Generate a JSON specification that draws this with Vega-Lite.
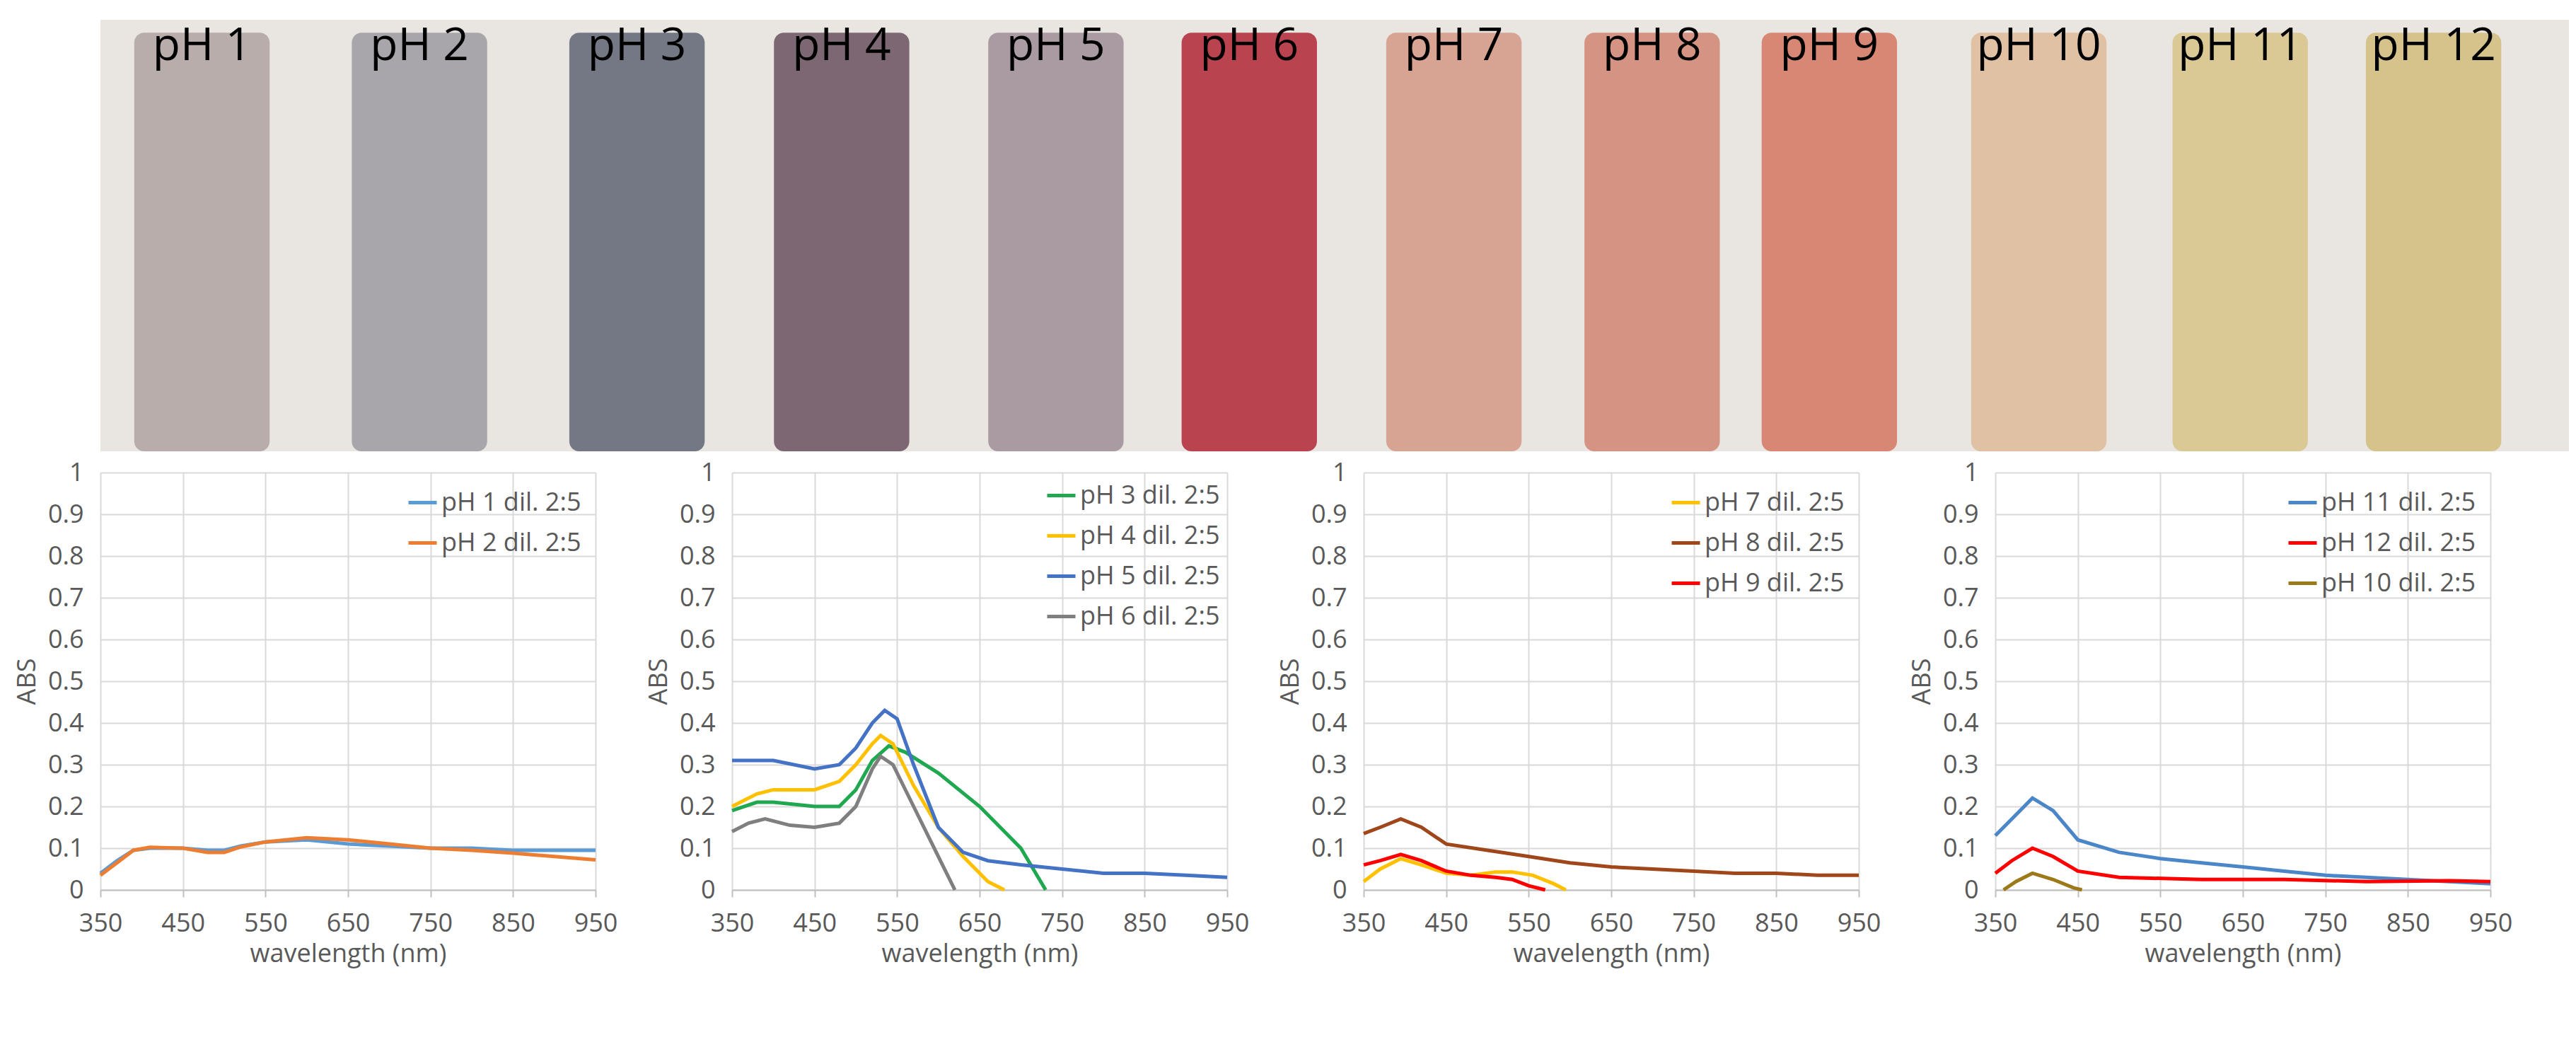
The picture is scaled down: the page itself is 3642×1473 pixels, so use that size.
{
  "$schema": "https://vega.github.io/schema/vega-lite/v6.json",
  "background": "white",
  "padding": {"left": 20, "top": 28, "right": 5, "bottom": 5},
  "bounds": "flush",
  "config": {
    "font": "Open Sans",
    "view": {"stroke": null},
    "axis": {
      "labelFont": "Open Sans", "titleFont": "Open Sans",
      "labelFontSize": 36, "titleFontSize": 36, "labelColor": "#595959", "titleColor": "#595959",
      "titleFontWeight": "normal", "gridColor": "#d9d9d9", "gridWidth": 2, "labelPadding": 14,
      "domainColor": "#bfbfbf", "domainWidth": 2, "tickColor": "#bfbfbf", "tickWidth": 2, "tickSize": 10
    },
    "axisX": {"labelFlush": false, "titlePadding": 8, "labelPadding": 20},
    "axisY": {"format": ".1~f", "titlePadding": 10, "labelPadding": 24},
    "legend": {"labelFontSize": 36, "labelColor": "#595959", "labelFont": "Open Sans", "labelLimit": 600, "symbolType": "stroke", "symbolStrokeWidth": 5, "symbolSize": 1600, "rowPadding": 16}
  },
  "datasets": {
    "tubes": [
      {"ph": "pH 1", "c": 75}, {"ph": "pH 2", "c": 210}, {"ph": "pH 3", "c": 345}, {"ph": "pH 4", "c": 472},
      {"ph": "pH 5", "c": 605}, {"ph": "pH 6", "c": 725}, {"ph": "pH 7", "c": 852}, {"ph": "pH 8", "c": 975},
      {"ph": "pH 9", "c": 1085}, {"ph": "pH 10", "c": 1215}, {"ph": "pH 11", "c": 1340}, {"ph": "pH 12", "c": 1460}
    ],
    "p1": [
      {"s": "pH 1 dil. 2:5", "w": 350, "a": 0.04}, {"s": "pH 1 dil. 2:5", "w": 370, "a": 0.07}, {"s": "pH 1 dil. 2:5", "w": 390, "a": 0.095},
      {"s": "pH 1 dil. 2:5", "w": 410, "a": 0.1}, {"s": "pH 1 dil. 2:5", "w": 450, "a": 0.1}, {"s": "pH 1 dil. 2:5", "w": 480, "a": 0.095},
      {"s": "pH 1 dil. 2:5", "w": 500, "a": 0.095}, {"s": "pH 1 dil. 2:5", "w": 520, "a": 0.105}, {"s": "pH 1 dil. 2:5", "w": 550, "a": 0.115},
      {"s": "pH 1 dil. 2:5", "w": 600, "a": 0.12}, {"s": "pH 1 dil. 2:5", "w": 650, "a": 0.11}, {"s": "pH 1 dil. 2:5", "w": 700, "a": 0.105},
      {"s": "pH 1 dil. 2:5", "w": 750, "a": 0.1}, {"s": "pH 1 dil. 2:5", "w": 800, "a": 0.1}, {"s": "pH 1 dil. 2:5", "w": 850, "a": 0.095},
      {"s": "pH 1 dil. 2:5", "w": 900, "a": 0.095}, {"s": "pH 1 dil. 2:5", "w": 950, "a": 0.095},
      {"s": "pH 2 dil. 2:5", "w": 350, "a": 0.035}, {"s": "pH 2 dil. 2:5", "w": 370, "a": 0.065}, {"s": "pH 2 dil. 2:5", "w": 390, "a": 0.095},
      {"s": "pH 2 dil. 2:5", "w": 410, "a": 0.102}, {"s": "pH 2 dil. 2:5", "w": 450, "a": 0.1}, {"s": "pH 2 dil. 2:5", "w": 480, "a": 0.09},
      {"s": "pH 2 dil. 2:5", "w": 500, "a": 0.09}, {"s": "pH 2 dil. 2:5", "w": 520, "a": 0.103}, {"s": "pH 2 dil. 2:5", "w": 550, "a": 0.115},
      {"s": "pH 2 dil. 2:5", "w": 600, "a": 0.125}, {"s": "pH 2 dil. 2:5", "w": 650, "a": 0.12}, {"s": "pH 2 dil. 2:5", "w": 700, "a": 0.11},
      {"s": "pH 2 dil. 2:5", "w": 750, "a": 0.1}, {"s": "pH 2 dil. 2:5", "w": 800, "a": 0.095}, {"s": "pH 2 dil. 2:5", "w": 850, "a": 0.088},
      {"s": "pH 2 dil. 2:5", "w": 900, "a": 0.08}, {"s": "pH 2 dil. 2:5", "w": 950, "a": 0.072}
    ],
    "p2": [
      {"s": "pH 3 dil. 2:5", "w": 350, "a": 0.19}, {"s": "pH 3 dil. 2:5", "w": 380, "a": 0.21}, {"s": "pH 3 dil. 2:5", "w": 400, "a": 0.21},
      {"s": "pH 3 dil. 2:5", "w": 450, "a": 0.2}, {"s": "pH 3 dil. 2:5", "w": 480, "a": 0.2}, {"s": "pH 3 dil. 2:5", "w": 500, "a": 0.24},
      {"s": "pH 3 dil. 2:5", "w": 520, "a": 0.31}, {"s": "pH 3 dil. 2:5", "w": 540, "a": 0.345}, {"s": "pH 3 dil. 2:5", "w": 560, "a": 0.33},
      {"s": "pH 3 dil. 2:5", "w": 600, "a": 0.28}, {"s": "pH 3 dil. 2:5", "w": 650, "a": 0.2}, {"s": "pH 3 dil. 2:5", "w": 700, "a": 0.1},
      {"s": "pH 3 dil. 2:5", "w": 730, "a": 0},
      {"s": "pH 4 dil. 2:5", "w": 350, "a": 0.2}, {"s": "pH 4 dil. 2:5", "w": 380, "a": 0.23}, {"s": "pH 4 dil. 2:5", "w": 400, "a": 0.24},
      {"s": "pH 4 dil. 2:5", "w": 450, "a": 0.24}, {"s": "pH 4 dil. 2:5", "w": 480, "a": 0.26}, {"s": "pH 4 dil. 2:5", "w": 500, "a": 0.3},
      {"s": "pH 4 dil. 2:5", "w": 520, "a": 0.35}, {"s": "pH 4 dil. 2:5", "w": 530, "a": 0.37}, {"s": "pH 4 dil. 2:5", "w": 545, "a": 0.35},
      {"s": "pH 4 dil. 2:5", "w": 570, "a": 0.25}, {"s": "pH 4 dil. 2:5", "w": 600, "a": 0.15}, {"s": "pH 4 dil. 2:5", "w": 630, "a": 0.08},
      {"s": "pH 4 dil. 2:5", "w": 660, "a": 0.02}, {"s": "pH 4 dil. 2:5", "w": 680, "a": 0},
      {"s": "pH 5 dil. 2:5", "w": 350, "a": 0.31}, {"s": "pH 5 dil. 2:5", "w": 380, "a": 0.31}, {"s": "pH 5 dil. 2:5", "w": 400, "a": 0.31},
      {"s": "pH 5 dil. 2:5", "w": 450, "a": 0.29}, {"s": "pH 5 dil. 2:5", "w": 480, "a": 0.3}, {"s": "pH 5 dil. 2:5", "w": 500, "a": 0.34},
      {"s": "pH 5 dil. 2:5", "w": 520, "a": 0.4}, {"s": "pH 5 dil. 2:5", "w": 535, "a": 0.43}, {"s": "pH 5 dil. 2:5", "w": 550, "a": 0.41},
      {"s": "pH 5 dil. 2:5", "w": 570, "a": 0.3}, {"s": "pH 5 dil. 2:5", "w": 600, "a": 0.15}, {"s": "pH 5 dil. 2:5", "w": 630, "a": 0.09},
      {"s": "pH 5 dil. 2:5", "w": 660, "a": 0.07}, {"s": "pH 5 dil. 2:5", "w": 700, "a": 0.06}, {"s": "pH 5 dil. 2:5", "w": 750, "a": 0.05},
      {"s": "pH 5 dil. 2:5", "w": 800, "a": 0.04}, {"s": "pH 5 dil. 2:5", "w": 850, "a": 0.04}, {"s": "pH 5 dil. 2:5", "w": 900, "a": 0.035},
      {"s": "pH 5 dil. 2:5", "w": 950, "a": 0.03},
      {"s": "pH 6 dil. 2:5", "w": 350, "a": 0.14}, {"s": "pH 6 dil. 2:5", "w": 370, "a": 0.16}, {"s": "pH 6 dil. 2:5", "w": 390, "a": 0.17},
      {"s": "pH 6 dil. 2:5", "w": 420, "a": 0.155}, {"s": "pH 6 dil. 2:5", "w": 450, "a": 0.15}, {"s": "pH 6 dil. 2:5", "w": 480, "a": 0.16},
      {"s": "pH 6 dil. 2:5", "w": 500, "a": 0.2}, {"s": "pH 6 dil. 2:5", "w": 520, "a": 0.29}, {"s": "pH 6 dil. 2:5", "w": 530, "a": 0.32},
      {"s": "pH 6 dil. 2:5", "w": 545, "a": 0.3}, {"s": "pH 6 dil. 2:5", "w": 570, "a": 0.2}, {"s": "pH 6 dil. 2:5", "w": 600, "a": 0.08},
      {"s": "pH 6 dil. 2:5", "w": 620, "a": 0}
    ],
    "p3": [
      {"s": "pH 7 dil. 2:5", "w": 350, "a": 0.02}, {"s": "pH 7 dil. 2:5", "w": 370, "a": 0.05}, {"s": "pH 7 dil. 2:5", "w": 395, "a": 0.075},
      {"s": "pH 7 dil. 2:5", "w": 420, "a": 0.06}, {"s": "pH 7 dil. 2:5", "w": 450, "a": 0.04}, {"s": "pH 7 dil. 2:5", "w": 480, "a": 0.035},
      {"s": "pH 7 dil. 2:5", "w": 510, "a": 0.043}, {"s": "pH 7 dil. 2:5", "w": 530, "a": 0.043}, {"s": "pH 7 dil. 2:5", "w": 555, "a": 0.035},
      {"s": "pH 7 dil. 2:5", "w": 580, "a": 0.015}, {"s": "pH 7 dil. 2:5", "w": 595, "a": 0},
      {"s": "pH 8 dil. 2:5", "w": 350, "a": 0.135}, {"s": "pH 8 dil. 2:5", "w": 370, "a": 0.15}, {"s": "pH 8 dil. 2:5", "w": 395, "a": 0.17},
      {"s": "pH 8 dil. 2:5", "w": 420, "a": 0.15}, {"s": "pH 8 dil. 2:5", "w": 450, "a": 0.11}, {"s": "pH 8 dil. 2:5", "w": 500, "a": 0.095},
      {"s": "pH 8 dil. 2:5", "w": 550, "a": 0.08}, {"s": "pH 8 dil. 2:5", "w": 600, "a": 0.065}, {"s": "pH 8 dil. 2:5", "w": 650, "a": 0.055},
      {"s": "pH 8 dil. 2:5", "w": 700, "a": 0.05}, {"s": "pH 8 dil. 2:5", "w": 750, "a": 0.045}, {"s": "pH 8 dil. 2:5", "w": 800, "a": 0.04},
      {"s": "pH 8 dil. 2:5", "w": 850, "a": 0.04}, {"s": "pH 8 dil. 2:5", "w": 900, "a": 0.035}, {"s": "pH 8 dil. 2:5", "w": 950, "a": 0.035},
      {"s": "pH 9 dil. 2:5", "w": 350, "a": 0.06}, {"s": "pH 9 dil. 2:5", "w": 370, "a": 0.07}, {"s": "pH 9 dil. 2:5", "w": 395, "a": 0.085},
      {"s": "pH 9 dil. 2:5", "w": 420, "a": 0.07}, {"s": "pH 9 dil. 2:5", "w": 450, "a": 0.045}, {"s": "pH 9 dil. 2:5", "w": 480, "a": 0.035},
      {"s": "pH 9 dil. 2:5", "w": 510, "a": 0.03}, {"s": "pH 9 dil. 2:5", "w": 530, "a": 0.025}, {"s": "pH 9 dil. 2:5", "w": 550, "a": 0.01},
      {"s": "pH 9 dil. 2:5", "w": 570, "a": 0}
    ],
    "p4": [
      {"s": "pH 11 dil. 2:5", "w": 350, "a": 0.13}, {"s": "pH 11 dil. 2:5", "w": 370, "a": 0.17}, {"s": "pH 11 dil. 2:5", "w": 395, "a": 0.22},
      {"s": "pH 11 dil. 2:5", "w": 420, "a": 0.19}, {"s": "pH 11 dil. 2:5", "w": 450, "a": 0.12}, {"s": "pH 11 dil. 2:5", "w": 500, "a": 0.09},
      {"s": "pH 11 dil. 2:5", "w": 550, "a": 0.075}, {"s": "pH 11 dil. 2:5", "w": 600, "a": 0.065}, {"s": "pH 11 dil. 2:5", "w": 650, "a": 0.055},
      {"s": "pH 11 dil. 2:5", "w": 700, "a": 0.045}, {"s": "pH 11 dil. 2:5", "w": 750, "a": 0.035}, {"s": "pH 11 dil. 2:5", "w": 800, "a": 0.03},
      {"s": "pH 11 dil. 2:5", "w": 850, "a": 0.025}, {"s": "pH 11 dil. 2:5", "w": 900, "a": 0.02}, {"s": "pH 11 dil. 2:5", "w": 950, "a": 0.015},
      {"s": "pH 12 dil. 2:5", "w": 350, "a": 0.04}, {"s": "pH 12 dil. 2:5", "w": 370, "a": 0.07}, {"s": "pH 12 dil. 2:5", "w": 395, "a": 0.1},
      {"s": "pH 12 dil. 2:5", "w": 420, "a": 0.08}, {"s": "pH 12 dil. 2:5", "w": 450, "a": 0.045}, {"s": "pH 12 dil. 2:5", "w": 500, "a": 0.03},
      {"s": "pH 12 dil. 2:5", "w": 600, "a": 0.025}, {"s": "pH 12 dil. 2:5", "w": 700, "a": 0.025}, {"s": "pH 12 dil. 2:5", "w": 800, "a": 0.02},
      {"s": "pH 12 dil. 2:5", "w": 900, "a": 0.022}, {"s": "pH 12 dil. 2:5", "w": 950, "a": 0.02},
      {"s": "pH 10 dil. 2:5", "w": 360, "a": 0}, {"s": "pH 10 dil. 2:5", "w": 375, "a": 0.02}, {"s": "pH 10 dil. 2:5", "w": 395, "a": 0.04},
      {"s": "pH 10 dil. 2:5", "w": 420, "a": 0.025}, {"s": "pH 10 dil. 2:5", "w": 445, "a": 0.005}, {"s": "pH 10 dil. 2:5", "w": 455, "a": 0}
    ]
  },
  "vconcat": [
    {
      "width": 3490, "height": 610,
      "data": {"name": "tubes"},
      "transform": [{"calculate": "datum.c - 42", "as": "x0"}, {"calculate": "datum.c + 42", "as": "x1"}],
      "encoding": {},
      "layer": [
        {
          "data": {"values": [{"x0": 12, "x1": 1544}]},
          "mark": {"type": "rect", "color": "#e9e5e1"},
          "encoding": {
            "x": {"field": "x0", "type": "quantitative", "scale": {"domain": [12, 1544]}, "axis": null},
            "x2": {"field": "x1"}
          }
        },
        {
          "mark": {"type": "rect", "cornerRadius": 14, "opacity": 0.95},
          "encoding": {
            "x": {"field": "x0", "type": "quantitative", "scale": {"domain": [12, 1544]}, "axis": null},
            "x2": {"field": "x1"},
            "y": {"datum": 0.0, "type": "quantitative", "scale": {"domain": [0, 1]}, "axis": null},
            "y2": {"datum": 0.97},
            "color": {
              "field": "ph", "type": "nominal", "legend": null,
              "scale": {
                "domain": ["pH 1", "pH 2", "pH 3", "pH 4", "pH 5", "pH 6", "pH 7", "pH 8", "pH 9", "pH 10", "pH 11", "pH 12"],
                "range": ["#b5aaa6", "#a4a2a6", "#6e7280", "#76606d", "#a6979e", "#b73a48", "#d6a08f", "#d48e7d", "#d6826d", "#dfbf9f", "#d9c690", "#d5c187"]
              }
            }
          }
        },
        {
          "mark": {"type": "text", "fontSize": 64, "color": "black", "baseline": "top", "font": "Open Sans"},
          "encoding": {
            "x": {"field": "c", "type": "quantitative", "scale": {"domain": [12, 1544]}, "axis": null},
            "y": {"datum": 0.99, "type": "quantitative", "scale": {"domain": [0, 1]}},
            "text": {"field": "ph"}
          }
        }
      ]
    },
    {
      "bounds": "full",
      "hconcat": [
        {
          "width": 700, "height": 590,
          "data": {"name": "p1"},
          "mark": {"type": "line", "strokeWidth": 5},
          "encoding": {
            "x": {"field": "w", "type": "quantitative", "title": "wavelength (nm)", "scale": {"domain": [350, 950], "nice": false}, "axis": {"values": [350, 450, 550, 650, 750, 850, 950]}},
            "y": {"field": "a", "type": "quantitative", "title": "ABS", "scale": {"domain": [0, 1]}, "axis": {"tickCount": 10, "domain": false, "ticks": false}},
            "color": {"field": "s", "type": "nominal", "title": null, "scale": {"range": ["#5b9bd5", "#ed7d31"]}, "legend": {"orient": "top-right", "offset": 20}}
          }
        },
        {
          "width": 700, "height": 590,
          "data": {"name": "p2"},
          "mark": {"type": "line", "strokeWidth": 5},
          "encoding": {
            "x": {"field": "w", "type": "quantitative", "title": "wavelength (nm)", "scale": {"domain": [350, 950], "nice": false}, "axis": {"values": [350, 450, 550, 650, 750, 850, 950]}},
            "y": {"field": "a", "type": "quantitative", "title": "ABS", "scale": {"domain": [0, 1]}, "axis": {"tickCount": 10, "domain": false, "ticks": false}},
            "color": {"field": "s", "type": "nominal", "title": null, "scale": {"range": ["#1fa84f", "#ffc000", "#4472c4", "#7f7f7f"]}, "legend": {"orient": "top-right", "offset": 10}}
          }
        },
        {
          "width": 700, "height": 590,
          "data": {"name": "p3"},
          "mark": {"type": "line", "strokeWidth": 5},
          "encoding": {
            "x": {"field": "w", "type": "quantitative", "title": "wavelength (nm)", "scale": {"domain": [350, 950], "nice": false}, "axis": {"values": [350, 450, 550, 650, 750, 850, 950]}},
            "y": {"field": "a", "type": "quantitative", "title": "ABS", "scale": {"domain": [0, 1]}, "axis": {"tickCount": 10, "domain": false, "ticks": false}},
            "color": {"field": "s", "type": "nominal", "title": null, "scale": {"range": ["#ffc000", "#a0461b", "#ff0000"]}, "legend": {"orient": "top-right", "offset": 20}}
          }
        },
        {
          "width": 700, "height": 590,
          "data": {"name": "p4"},
          "mark": {"type": "line", "strokeWidth": 5},
          "encoding": {
            "x": {"field": "w", "type": "quantitative", "title": "wavelength (nm)", "scale": {"domain": [350, 950], "nice": false}, "axis": {"values": [350, 450, 550, 650, 750, 850, 950]}},
            "y": {"field": "a", "type": "quantitative", "title": "ABS", "scale": {"domain": [0, 1]}, "axis": {"tickCount": 10, "domain": false, "ticks": false}},
            "color": {"field": "s", "type": "nominal", "title": null, "scale": {"domain": ["pH 11 dil. 2:5", "pH 12 dil. 2:5", "pH 10 dil. 2:5"], "range": ["#4a86c8", "#ff0000", "#9c7a1a"]}, "legend": {"orient": "top-right", "offset": 20}}
          }
        }
      ],
      "spacing": 40,
      "resolve": {"scale": {"color": "independent"}, "legend": {"color": "independent"}}
    }
  ],
  "spacing": 30
}
